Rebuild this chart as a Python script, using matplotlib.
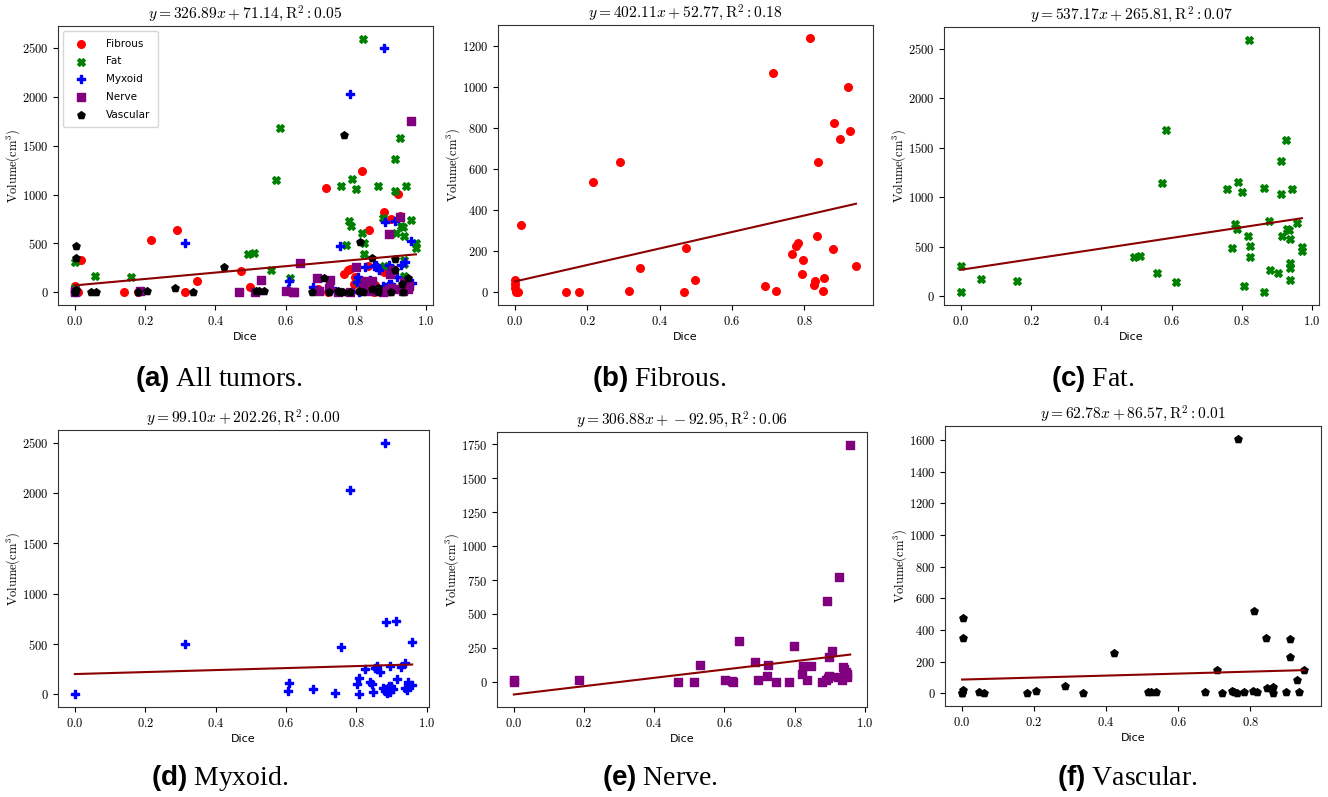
import numpy as np
import matplotlib
matplotlib.use("Agg")
import matplotlib.pyplot as plt
from matplotlib.ticker import FormatStrFormatter

# Dice / volume per tumour class
fibrous_dice = [0.0, 0.0, 0.0, 0.002, 0.007, 0.017, 0.14, 0.178, 0.217, 0.291, 0.314, 0.347,
                0.468, 0.473, 0.497, 0.692, 0.714, 0.721, 0.767, 0.777, 0.784, 0.794, 0.797,
                0.817, 0.826, 0.830, 0.834, 0.837, 0.851, 0.854, 0.880, 0.881, 0.899, 0.920,
                0.926, 0.943]
fibrous_vol = [62, 38, 20, 0, 0, 328, 3, 0, 539, 637, 8, 119,
               0, 217, 59, 29, 1071, 8, 188, 225, 242, 90, 157,
               1242, 34, 54, 273, 635, 8, 72, 211, 825, 749, 1002,
               785, 127]

fat_dice = [0.0, 0.0, 0.057, 0.159, 0.494, 0.509, 0.557, 0.572, 0.583, 0.612, 0.758, 0.772,
            0.780, 0.786, 0.788, 0.799, 0.807, 0.816, 0.820, 0.822, 0.823, 0.863, 0.864,
            0.877, 0.879, 0.904, 0.911, 0.912, 0.913, 0.926, 0.928, 0.934, 0.936, 0.936,
            0.937, 0.937, 0.943, 0.957, 0.971, 0.971]
fat_vol = [306, 44, 172, 155, 390, 407, 232, 1144, 1676, 145, 1087, 481,
           727, 683, 1157, 1053, 104, 606, 2594, 505, 394, 37, 1090,
           760, 266, 236, 1366, 1036, 609, 1578, 676, 663, 575, 333,
           286, 162, 1083, 737, 501, 458]

myxoid_dice = [0.0, 0.313, 0.607, 0.610, 0.677, 0.741, 0.756, 0.782, 0.803, 0.807, 0.808,
               0.825, 0.839, 0.845, 0.848, 0.852, 0.858, 0.860, 0.867, 0.877, 0.881, 0.884,
               0.883, 0.888, 0.891, 0.893, 0.895, 0.897, 0.900, 0.905, 0.912, 0.917, 0.928,
               0.939, 0.938, 0.943, 0.948, 0.950, 0.958, 0.959]
myxoid_vol = [7, 505, 37, 113, 50, 10, 475, 2028, 106, 160, 0,
              256, 126, 106, 23, 266, 283, 256, 226, 60, 2503, 715,
              33, 10, 60, 83, 283, 27, 83, 57, 725, 153, 276,
              309, 60, 43, 126, 83, 525, 93]

nerve_dice = [0.0, 0.0, 0.186, 0.468, 0.512, 0.529, 0.601, 0.622, 0.624, 0.641, 0.688, 0.696,
              0.722, 0.725, 0.748, 0.783, 0.799, 0.821, 0.825, 0.836, 0.847, 0.877, 0.888,
              0.893, 0.894, 0.897, 0.899, 0.905, 0.923, 0.926, 0.934, 0.937, 0.940, 0.946,
              0.948, 0.950, 0.958]
nerve_vol = [17, 0, 12, 0, 0, 123, 12, 5, 0, 304, 150, 12,
             44, 123, 0, 0, 262, 59, 120, 17, 115, 0, 12,
             598, 32, 184, 42, 228, 37, 775, 12, 110, 98, 74,
             37, 60, 1748]

vascular_dice = [0.002, 0.002, 0.002, 0.0, 0.0, 0.046, 0.061, 0.180, 0.204, 0.285, 0.337,
                 0.423, 0.515, 0.524, 0.539, 0.674, 0.709, 0.722, 0.748, 0.755, 0.767, 0.764,
                 0.784, 0.808, 0.811, 0.819, 0.845, 0.847, 0.862, 0.862, 0.899, 0.910, 0.911,
                 0.931, 0.935, 0.949]
vascular_vol = [478, 347, 19, 2, 0, 6, 2, 4, 15, 46, 2,
                256, 11, 11, 11, 8, 150, 2, 13, 6, 1608, 2,
                6, 15, 518, 6, 351, 32, 40, 2, 8, 342, 228,
                87, 6, 144]

class_names = ["Fibrous", "Fat", "Myxoid", "Nerve", "Vascular"]
class_colors = ["red", "green", "blue", "purple", "black"]
class_markers = ["o", "X", "P", "s", "p"]

# fitted lines as printed in the titles: (slope, intercept, R^2), all tumours first
fit_slopes = [326.89, 402.11, 537.17, 99.10, 306.88, 62.78]
fit_intercepts = [71.14, 52.77, 265.81, 202.26, -92.95, 86.57]
fit_r2 = [0.05, 0.18, 0.07, 0.00, 0.06, 0.01]

captions = ["All tumors.", "Fibrous.", "Fat.", "Myxoid.", "Nerve.", "Vascular."]
letters = ["a", "b", "c", "d", "e", "f"]

plt.rcParams["mathtext.fontset"] = "cm"
# custom math set only used by the captions (bold sans letter)
plt.rcParams["mathtext.bf"] = "Liberation Sans:bold"
plt.rcParams["mathtext.rm"] = "Liberation Serif"
plt.rcParams["mathtext.it"] = "Liberation Serif:italic"

W, H = 1328, 797
# axes boxes in pixels: left, right, top, bottom
boxes = [(58, 433, 26, 305), (498, 873, 25, 305), (944, 1319, 27, 305),
         (58, 429, 430, 707), (497, 867, 432, 707), (945, 1321, 426, 706)]
cap_pos = [(219, 379), (659, 379), (1093, 379), (220, 778), (660, 778), (1127, 778)]

all_dice = [fibrous_dice, fat_dice, myxoid_dice, nerve_dice, vascular_dice]
all_vol = [fibrous_vol, fat_vol, myxoid_vol, nerve_vol, vascular_vol]

fig = plt.figure(figsize=(W / 100, H / 100), dpi=100)

for i in range(6):
    l, r, t, b = boxes[i]
    ax = fig.add_axes([l / W, (H - b) / H, (r - l) / W, (b - t) / H])
    if i == 0:
        idx = range(5)
    else:
        idx = [i - 1]
    xs_all = []
    for k in idx:
        ax.scatter(all_dice[k], all_vol[k], s=30, c=class_colors[k],
                   marker=class_markers[k], label=class_names[k], zorder=2)
        xs_all += all_dice[k]
    xs = np.array([min(xs_all), max(xs_all)])
    ax.plot(xs, fit_slopes[i] * xs + fit_intercepts[i], color="#8b0000", lw=1.5, zorder=3)

    ax.set_title(r"$y = %.2fx + %.2f, \mathrm{R}^2: %.2f$" % (fit_slopes[i], fit_intercepts[i], fit_r2[i]),
                 fontsize=11.2, pad=5, math_fontfamily="cm")
    ax.set_xlabel("Dice", fontfamily="DejaVu Sans", fontsize=8, labelpad=3)
    ax.set_ylabel(r"$\mathrm{Volume(cm}^3\mathrm{)}$", fontsize=9, math_fontfamily="cm")
    ax.yaxis.set_label_coords(-0.096, 0.5)
    # tick labels in computer modern through mathtext
    ax.xaxis.set_major_formatter(FormatStrFormatter(r"$%.1f$"))
    ax.yaxis.set_major_formatter(FormatStrFormatter(r"$%d$"))
    ax.tick_params(labelsize=9)
    for spine in ax.spines.values():
        spine.set_edgecolor("#333333")
    if i == 0:
        ax.legend(loc="upper left", prop={"family": "DejaVu Sans", "size": 7.5},
                  handletextpad=1.4, borderpad=0.7, labelspacing=0.75)

    cx, cy = cap_pos[i]
    fig.text(cx / W, 1 - cy / H, r"$\mathbf{(%s)}$ %s" % (letters[i], captions[i]),
             ha="center", va="center", fontsize=20, fontfamily="Liberation Serif",
             math_fontfamily="custom")

fig.savefig("out.png", dpi=100)
